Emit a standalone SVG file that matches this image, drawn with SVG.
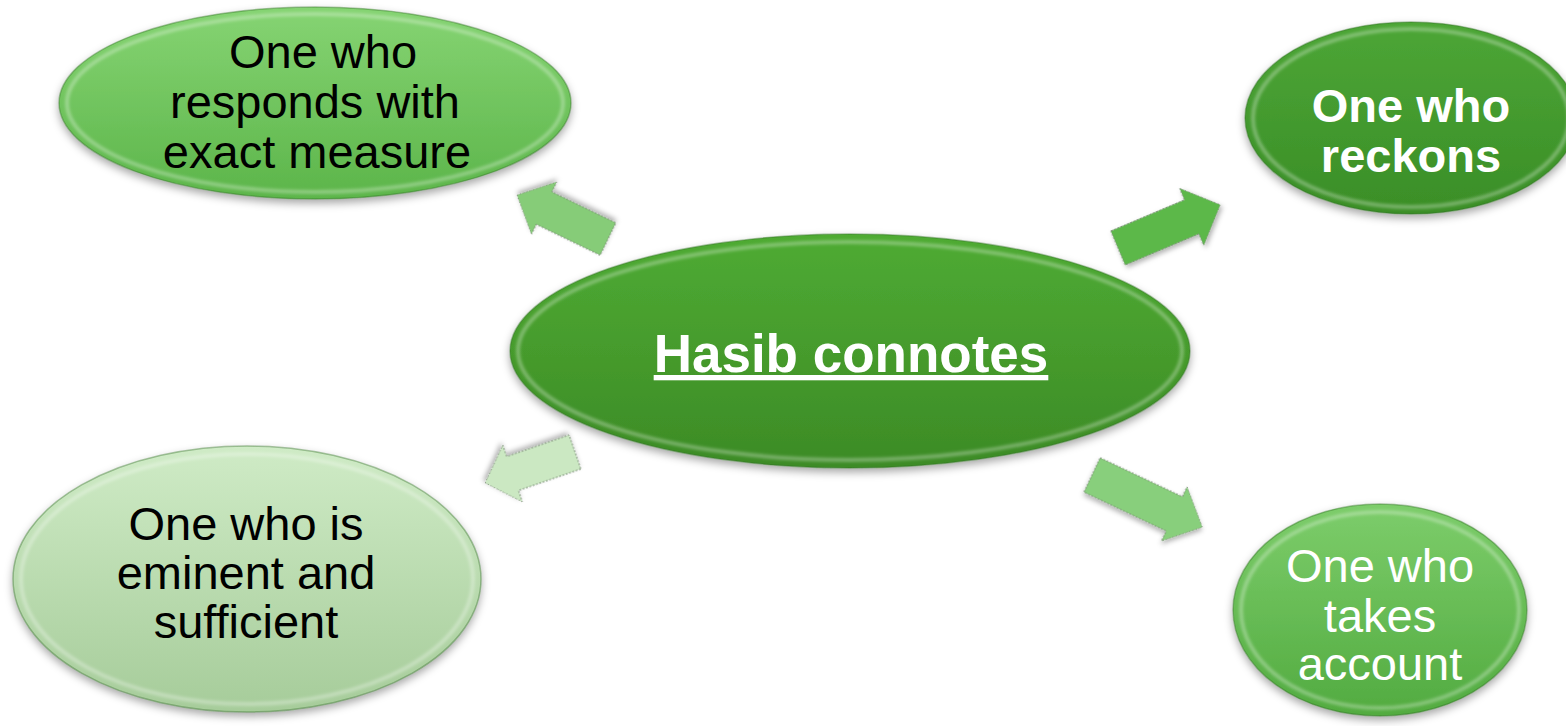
<svg xmlns="http://www.w3.org/2000/svg" width="1566" height="726" viewBox="0 0 1566 726">
<defs>
<filter id="sh" x="-10%" y="-10%" width="120%" height="130%">
<feDropShadow dx="0" dy="4" stdDeviation="4" flood-color="#000" flood-opacity="0.35"/>
</filter>
<filter id="ash" x="-20%" y="-20%" width="140%" height="150%">
<feDropShadow dx="1" dy="3" stdDeviation="2.5" flood-color="#000" flood-opacity="0.3"/>
</filter>
<filter id="blur" x="-5%" y="-5%" width="110%" height="110%">
<feGaussianBlur stdDeviation="1.5"/>
</filter>
<linearGradient id="gTL" x1="0" y1="0" x2="0" y2="1"><stop offset="0" stop-color="#86d473"/><stop offset="1" stop-color="#5cb54a"/></linearGradient>
<linearGradient id="gTR" x1="0" y1="0" x2="0" y2="1"><stop offset="0" stop-color="#4da636"/><stop offset="1" stop-color="#3a8e27"/></linearGradient>
<linearGradient id="gC" x1="0" y1="0" x2="0" y2="1"><stop offset="0" stop-color="#4fab33"/><stop offset="1" stop-color="#3c8b26"/></linearGradient>
<linearGradient id="gBL" x1="0" y1="0" x2="0" y2="1"><stop offset="0" stop-color="#cfebc6"/><stop offset="1" stop-color="#a6cc9a"/></linearGradient>
<linearGradient id="gBR" x1="0" y1="0" x2="0" y2="1"><stop offset="0" stop-color="#7dcd6b"/><stop offset="1" stop-color="#52ab40"/></linearGradient>
</defs>
<style>
.rim{fill:none;stroke:#ffffff;stroke-opacity:0.3;stroke-width:4;filter:url(#blur)}
.edge{stroke:#2f6f22;stroke-opacity:0.4;stroke-width:1.5}
.t{font-family:"Liberation Sans",Arial,sans-serif;font-size:47px;text-anchor:middle}
.dark{fill:#000}
.light{fill:#fff}
.b{font-weight:bold}
.arr{stroke:#7f917a;stroke-width:1;stroke-dasharray:2 1.5;filter:url(#ash)}
</style>

<g id="connectors">
<polygon class="arr" fill="#86cc78" points="0,-18 71,-18 71,-29 101,0 71,29 71,18 0,18" transform="translate(608,239) rotate(205.8)"/>
<polygon class="arr" fill="#5cb84a" points="0,-18.5 80,-18.5 80,-31 111,0 80,31 80,18.5 0,18.5" transform="translate(1118,248) rotate(-22.9)"/>
<polygon class="arr" fill="#cbe8c2" points="0,-18 66,-18 66,-30 95,0 66,30 66,18 0,18" transform="translate(575,452) rotate(161)"/>
<polygon class="arr" fill="#88cf7b" points="0,-19 91,-19 91,-30 122,0 91,30 91,19 0,19" transform="translate(1092,475) rotate(25.3)"/>
</g>

<g id="node-top-left">
<ellipse class="edge" cx="315" cy="103" rx="256" ry="96" fill="url(#gTL)" filter="url(#sh)"/>
<ellipse class="rim" cx="315" cy="103" rx="248" ry="89"/>
<text class="t dark" x="323" y="68">One who</text>
<text class="t dark" x="315" y="118">responds with</text>
<text class="t dark" x="317" y="168">exact measure</text>
</g>

<g id="node-top-right">
<ellipse class="edge" cx="1411" cy="118" rx="166" ry="96" fill="url(#gTR)" filter="url(#sh)"/>
<ellipse class="rim" cx="1411" cy="118" rx="158" ry="89"/>
<text class="t light b" x="1411" y="122">One who</text>
<text class="t light b" x="1411" y="172">reckons</text>
</g>

<g id="node-center">
<ellipse class="edge" cx="850" cy="351" rx="340" ry="117" fill="url(#gC)" filter="url(#sh)"/>
<ellipse class="rim" cx="850" cy="351" rx="332" ry="109"/>
<text class="t light b" x="851" y="372" text-decoration="underline" style="font-size:53px">Hasib connotes</text>
</g>

<g id="node-bottom-left">
<ellipse class="edge" cx="247" cy="579" rx="234" ry="133" fill="url(#gBL)" filter="url(#sh)"/>
<ellipse class="rim" cx="247" cy="579" rx="226" ry="125"/>
<text class="t dark" x="246" y="540">One who is</text>
<text class="t dark" x="246" y="589">eminent and</text>
<text class="t dark" x="246" y="638">sufficient</text>
</g>

<g id="node-bottom-right">
<ellipse class="edge" cx="1380" cy="610" rx="147" ry="106" fill="url(#gBR)" filter="url(#sh)"/>
<ellipse class="rim" cx="1380" cy="610" rx="139" ry="98"/>
<text class="t light" x="1380" y="582">One who</text>
<text class="t light" x="1380" y="632">takes</text>
<text class="t light" x="1380" y="680">account</text>
</g>
</svg>
